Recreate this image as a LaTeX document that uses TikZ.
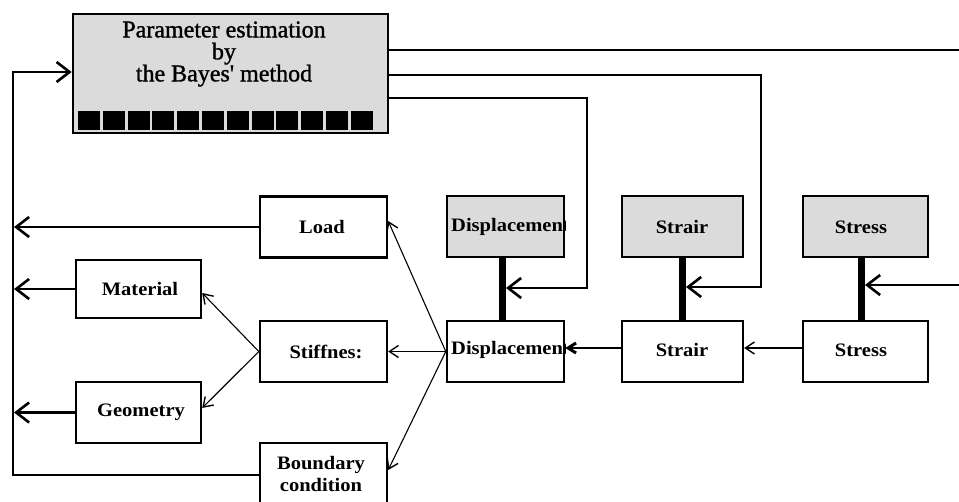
\documentclass[tikz,border=0pt]{standalone}
\usepackage{fontspec}
\setmainfont{Liberation Serif}
\newfontfamily\lblfont[FakeStretch=1.08]{Liberation Serif}
\newfontfamily\heavyfont[FakeBold=1.2]{Liberation Serif}
\usetikzlibrary{arrows.meta}
\begin{document}
\begin{tikzpicture}[x=1pt,y=-1pt,
  box/.style={draw, line width=2.4pt, minimum width=127pt, minimum height=61pt, inner sep=0pt},
  shaded/.style={box, fill=black!14},
  lbl/.style={inner sep=0pt, font=\lblfont\bfseries\fontsize{19}{22}\selectfont, align=center},
  bar/.style={line width=7pt},
  fb/.style={line width=2.4pt},
  bigtip/.style={-{Straight Barb[length=13pt,width=20pt,line width=2.6pt]}},
  thin/.style={line width=1.1pt, -{Straight Barb[length=9pt,width=12pt,line width=1.4pt]}},
  boldtip/.style={line width=1.1pt, -{Straight Barb[length=8pt,width=10pt,line width=3pt]}}
]
\useasboundingbox (0,0) rectangle (959,501);
\clip (0,0) rectangle (959,501);

% top box
\node[draw, line width=2.6pt, fill=black!14, minimum width=315pt, minimum height=119pt, inner sep=0pt] (top) at (230.5,73.5) {};
\node[inner sep=0pt, font=\heavyfont\fontsize{24}{22}\selectfont, align=center] (toptxt) at (224,54) {Parameter estimation\\by\\the Bayes' method};
\foreach \i in {0,...,11} \fill ({78+\i*24.8},111) rectangle ++(22,19);

% left column boxes
\node[box] (load) at (323.5,227) {};
\node[lbl] (loadt) at (322,227) {Load};
\node[box, minimum width=125pt, minimum height=58pt] (mat) at (138.5,289) {};
\node[lbl] (matt) at (140,289) {Material};
\node[box] (stiff) at (323.5,351.5) {};
\node[lbl] (stifft) at (326,351.5) {Stiffnes:};
\node[box, minimum width=125pt] (geo) at (138.5,412.5) {};
\node[lbl] (geot) at (141,412.5) {Geometry};
\node[box, minimum height=70pt] (bnd) at (323.5,478) {};
\node[lbl] (bndt) at (321,474) {Boundary\\condition};

% measured quantities (shaded) and computed quantities
\node[shaded, minimum width=117pt] (dtop) at (505.5,226.5) {};
\node[shaded, minimum width=121pt] (stop) at (682.5,226.5) {};
\node[lbl] (stopt) at (682,227) {Strair};
\node[shaded, minimum width=125pt] (sstop) at (865.5,226.5) {};
\node[lbl] (sstopt) at (861,227) {Stress};

\node[box, minimum width=117pt] (dbot) at (505.5,351.5) {};
\node[box, minimum width=121pt] (sbot) at (682.5,351.5) {};
\node[lbl] (sbott) at (682,350) {Strair};
\node[box, minimum width=125pt] (ssbot) at (865.5,351.5) {};
\node[lbl] (ssbott) at (861,350) {Stress};

\begin{scope}
  \clip (dtop.south west) rectangle (dtop.north east);
  \node[lbl, anchor=west] (dtopt) at (451,227) {Displacement};
\end{scope}
\begin{scope}
  \clip (dbot.south west) rectangle (dbot.north east);
  \node[lbl, anchor=west] (dbott) at (451,350) {Displacement};
\end{scope}
\node[box, minimum width=117pt] (dtopframe) at (dtop) {};
\node[box, minimum width=117pt] (dbotframe) at (dbot) {};

% thick bars
\draw[bar] (dtop.south -| 502,0) -- (dbot.north -| 502,0);
\draw[bar] (stop.south -| 682,0) -- (sbot.north -| 682,0);
\draw[bar] (sstop.south -| 861,0) -- (ssbot.north -| 861,0);

% coordinates
\coordinate (lx) at (14,0);
\coordinate (r1) at (959,50);
\coordinate (k2) at (761,75);
\coordinate (k3) at (587,98);
\coordinate (a1) at (506,288);
\coordinate (a2) at (686,287);
\coordinate (a3) at (865,285);
\coordinate (r3) at (959,285);

% feedback from the left
\draw[fb] (bnd.west |- 0,475) -| ([xshift=-59pt]top.west) coordinate (lc);
\draw[fb, bigtip] (lc) |- ([yshift=1.5pt]top.west);
\draw[fb, bigtip] (load.west) -- (load.west -| lx);
\draw[fb, bigtip] (mat.west) -- (mat.west -| lx);
\draw[fb, bigtip] (geo.west) -- (geo.west -| lx);

% lines from the estimation box
\draw[fb] (top.east |- r1) -- (r1);
\draw[fb, bigtip] (top.east |- k2) -- (k2) |- (a2);
\draw[fb, bigtip] (top.east |- k3) -- (k3) |- (a1);
\draw[fb, bigtip] (r3) -- (a3);

% thin connectors
\draw[thin] (ssbot.west |- 0,348) -- (sbot.east |- 0,348);
\draw[boldtip] (sbot.west |- 0,348) -- (dbot.east |- 0,348);
\draw[thin] (dbot.west) -- (stiff.east);
\draw[thin] (dbot.west) -- ([yshift=6pt]load.east);
\draw[thin] (dbot.west) -- (bnd.east |- 0,470);
\draw[thin] (stiff.west) -- (mat.east |- 0,293);
\draw[thin] (stiff.west) -- (geo.east |- 0,408);
\end{tikzpicture}
\end{document}
